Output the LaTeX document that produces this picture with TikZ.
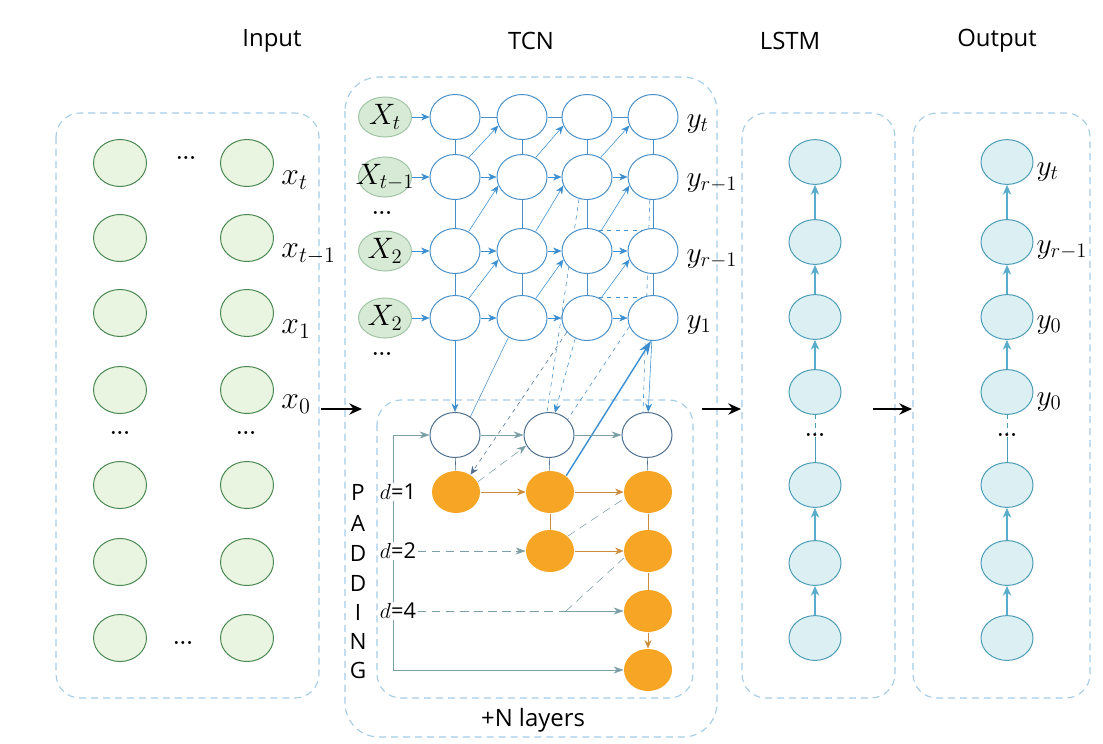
\RequirePackage{fix-cm}
\documentclass[tikz,border=0pt]{standalone}
\usepackage{fontspec}
\setsansfont{Open Sans}
\usetikzlibrary{shapes.geometric}
\usetikzlibrary{arrows.meta}
\usetikzlibrary{backgrounds}
\definecolor{leaf}{RGB}{233,244,225}
\definecolor{leafline}{RGB}{72,135,80}
\definecolor{xfill}{RGB}{214,234,214}
\definecolor{xline}{RGB}{160,196,164}
\definecolor{tcnblue}{RGB}{74,144,200}
\definecolor{arrblue}{RGB}{59,143,208}
\definecolor{slate}{RGB}{77,111,143}
\definecolor{amber}{RGB}{246,165,36}
\definecolor{amberline}{RGB}{205,140,60}
\definecolor{grayarr}{RGB}{124,158,166}
\definecolor{cellfill}{RGB}{220,240,244}
\definecolor{cellline}{RGB}{74,156,182}
\definecolor{cellarr}{RGB}{90,172,204}
\definecolor{framecol}{RGB}{165,205,230}

\begin{document}
\begin{tikzpicture}[x=0.025cm,y=-0.025cm,
  line width=0.7pt,
  inp/.style={ellipse,draw=leafline,fill=leaf,minimum width=1.325cm,minimum height=1.175cm,inner sep=0pt},
  xin/.style={ellipse,draw=xline,fill=xfill,minimum width=1.325cm,minimum height=1.0cm,inner sep=0pt,label={[font=\fontsize{21}{24}\selectfont,inner sep=0pt]center:#1}},
  hid/.style={ellipse,draw=tcnblue,fill=white,minimum width=1.25cm,minimum height=1.125cm,inner sep=0pt},
  base/.style={hid,draw=slate},
  dil/.style={ellipse,fill=amber,minimum width=1.2cm,minimum height=1.05cm,inner sep=0pt},
  cell/.style={ellipse,draw=cellline,fill=cellfill,minimum width=1.3cm,minimum height=1.12cm,inner sep=0pt},
  frame/.style={draw=framecol,line width=0.8pt,dash pattern=on 5pt off 3.5pt,rounded corners=0.6cm},
  head/.style={font=\sffamily\fontsize{17}{20}\selectfont},
  lab/.style={anchor=west,inner sep=0pt,font=\fontsize{22.5}{26}\selectfont},
  ylab/.style={anchor=west,inner sep=0pt,font=\fontsize{21}{24}\selectfont},
  dots/.style={font=\bfseries\fontsize{15}{16}\selectfont,inner sep=0pt},
  pad/.style={font=\sffamily\fontsize{16}{18}\selectfont,inner sep=0pt},
  dl/.style={font=\sffamily\fontsize{15.5}{18}\selectfont,fill=white,inner sep=1pt},
  tline/.style={draw=tcnblue},
  bl/.style={draw=arrblue,-{Stealth[length=6pt,width=5pt]}},
  bigarr/.style={draw=arrblue,line width=1pt,-{Stealth[length=10pt,width=7pt]}},
  garr/.style={draw=grayarr,-{Stealth[length=7pt,width=5pt]}},
  gdash/.style={draw=grayarr,dash pattern=on 6pt off 4pt},
  oarr/.style={draw=amberline,-{Stealth[length=6pt,width=5pt,inset=2pt]}},
  carr/.style={draw=cellarr,line width=1pt,-{Stealth[length=7pt,width=6pt]}},
  big/.style={line width=1.6pt,-{Stealth[length=9pt,width=8pt]}}]
\useasboundingbox (0,0) rectangle (1103,743);

% headers
\node[head] (hin) at (272,41) {Input};
\node[head] (htc) at (531,41) {TCN};
\node[head] (hls) at (790,41) {LSTM};
\node[head] (hout) at (997,41) {Output};

% input
\foreach \r/\y in {1/163,2/238,3/313,4/390,5/485,6/562,7/638}{
  \node[inp] (ia\r) at (120,\y) {};
  \node[inp] (ib\r) at (247,\y) {};
}
\node[dots] (id1) at (186,158) {...};
\node[dots] (id2) at (120,433) {...};
\node[dots] (id3) at (246,433) {...};
\node[dots] (id4) at (183,643) {...};
\node[lab] (lx1) at (281,180) {$x_t$};
\node[lab] (lx2) at (281,254) {$x_{t-1}$};
\node[lab] (lx3) at (281,329) {$x_1$};
\node[lab] (lx4) at (281,404) {$x_0$};

% TCN grid
\foreach \r/\y/\lbl in {1/117/X_t,2/177/X_{t-1},3/251/X_2,4/318/X_2}{
  \node[xin=$\lbl$] (xi\r) at (385,\y) {};
  \foreach \c/\x in {1/455,2/522,3/587,4/653}
    \node[hid] (h\c\r) at (\x,\y) {};
}
\node[dots] (td1) at (382,213) {...};
\node[dots] (td2) at (382,354) {...};
\node[ylab] (ly1) at (686,124) {$y_t$};
\node[ylab] (ly2) at (686,183) {$y_{r-1}$};
\node[ylab] (ly3) at (686,259) {$y_{r-1}$};
\node[ylab] (ly4) at (686,325) {$y_1$};

% dilated part
\node[base] (b1) at (455,435) {};
\node[base] (b2) at (549,435) {};
\node[base] (b3) at (647,435) {};
\node[dil] (o1) at (456,492) {};
\node[dil] (o2) at (550,492) {};
\node[dil] (o3) at (648,492) {};
\node[dil] (o4) at (550,551) {};
\node[dil] (o5) at (648,551) {};
\node[dil] (o6) at (648,611) {};
\node[dil] (o7) at (648,670) {};
\foreach \l/\y [count=\i] in {P/492,A/523,D/553,D/583,I/612,N/641,G/670}
  \node[pad] (p\i) at (358,\y) {\l};
\node[dl] (d1) at (398,492) {$d$=1};
\node[dl] (d2) at (398,551) {$d$=2};
\node[dl] (d4) at (398,611) {$d$=4};
\node[font=\sffamily\fontsize{17}{20}\selectfont] (nl) at (533,720) {+N layers};
\coordinate (padtop) at (393,435);
\coordinate (padbot) at (393,670);
\coordinate (k4) at (566,611);

% LSTM and output
\foreach \r/\y in {1/162,2/242,3/317,4/392,5/485,6/563,7/638}{
  \node[cell] (l\r) at (815,\y) {};
  \node[cell] (q\r) at (1007,\y) {};
}
\node[dots] (ld) at (815,435) {...};
\node[dots] (qd) at (1007,435) {...};
\node[ylab] (oy1) at (1036,172) {$y_t$};
\node[ylab] (oy2) at (1036,250) {$y_{r-1}$};
\node[ylab] (oy3) at (1036,325) {$y_0$};
\node[ylab] (oy4) at (1036,402) {$y_0$};

\coordinate (a1) at (321,409);
\coordinate (a2) at (362,409);
\coordinate (a3) at (702,409);
\coordinate (a4) at (741,409);
\coordinate (a5) at (873,409);
\coordinate (a6) at (912,409);
\draw[big] (a1) -- (a2);
\draw[big] (a3) -- (a4);
\draw[big] (a5) -- (a6);

\begin{scope}[on background layer]
  \draw[frame] (56,113) rectangle (319,698);
  \draw[frame,rounded corners=0.85cm] (345,77) rectangle (717,737);
  \draw[frame] (377,400) rectangle (693,698);
  \draw[frame] (742,113) rectangle (895,698);
  \draw[frame] (913,113) rectangle (1090,698);

  % grid connectors
  \foreach \r in {1,...,4} \draw[bl] (xi\r) -- (h1\r);
  \foreach \c/\n in {1/2,2/3,3/4}{
    \draw[tline] (h\c1) -- (h\n1);
    \foreach \r in {2,3,4} \draw[bl] (h\c\r) -- (h\n\r);
    \foreach \r/\s in {1/2,2/3,3/4} \draw[bl] (h\c\s.55) -- (h\n\r.200);
  }
  \foreach \c in {1,...,4}
    \foreach \r/\s in {1/2,2/3,3/4} \draw[tline] (h\c\r) -- (h\c\s);
  \draw[tline,dashed] (h33.60) -- (h43.120);
  \draw[tline,dashed] (h34.60) -- (h44.120);

  % down to the dilated layer
  \draw[bl] (h14) -- (b1);
  \draw[tline] (h24.235) -- (b1.50);
  \draw[bl,dashed] (h34.240) -- (b2.75);
  \draw[tline,dashed] (h32.250) -- (b2.95);
  \draw[tline,dashed] (h44.200) -- (b2.40);
  \draw[tline,dashed] (h42.262) -- (b3.100);
  \draw[bl] (h44) -- (b3);
  \draw[bl,dashed,draw=slate] (h34.215) -- (o1.50);
  \draw[garr,dash pattern=on 6pt off 4pt] (o1.25) -- (b2.205);
  \draw[bigarr] (o2.45) -- (h44.265);

  \draw[garr] (b1) -- (b2);
  \draw[garr] (b2) -- (b3);
  \draw[draw=slate] (b1) -- (o1);
  \draw[draw=slate] (b2) -- (o2);
  \draw[draw=slate] (b3) -- (o3);
  \draw[garr] (padtop) -- (b1);
  \draw[draw=grayarr] (padtop) -- (padbot);
  \draw[garr] (padbot) -- (o7);

  \draw[oarr] (o1) -- (o2);
  \draw[oarr] (o2) -- (o3);
  \draw[oarr] (o4) -- (o5);
  \draw[draw=amberline] (o2) -- (o4);
  \draw[draw=amberline] (o3) -- (o5);
  \draw[draw=amberline] (o5) -- (o6);
  \draw[oarr] (o6) -- (o7);
  \draw[gdash] (o4.40) -- (o3.195);
  \draw[gdash,-{Stealth[length=7pt,width=5pt]}] (d2) -- (o4);
  \draw[gdash] (d4) -- (k4);
  \draw[garr] (k4) -- (o6);
  \draw[gdash] (k4) -- (o5.195);

  % LSTM and output chains
  \foreach \a/\b in {2/1,3/2,4/3,6/5,7/6}{
    \draw[carr] (l\a) -- (l\b);
    \draw[carr] (q\a) -- (q\b);
  }
  \draw[draw=cellline,dashed] (l4) -- (ld);
  \draw[draw=cellline] (ld) -- (l5);
  \draw[draw=cellline,dashed] (q4) -- (qd);
  \draw[draw=cellline] (qd) -- (q5);
\end{scope}
\end{tikzpicture}
\end{document}
